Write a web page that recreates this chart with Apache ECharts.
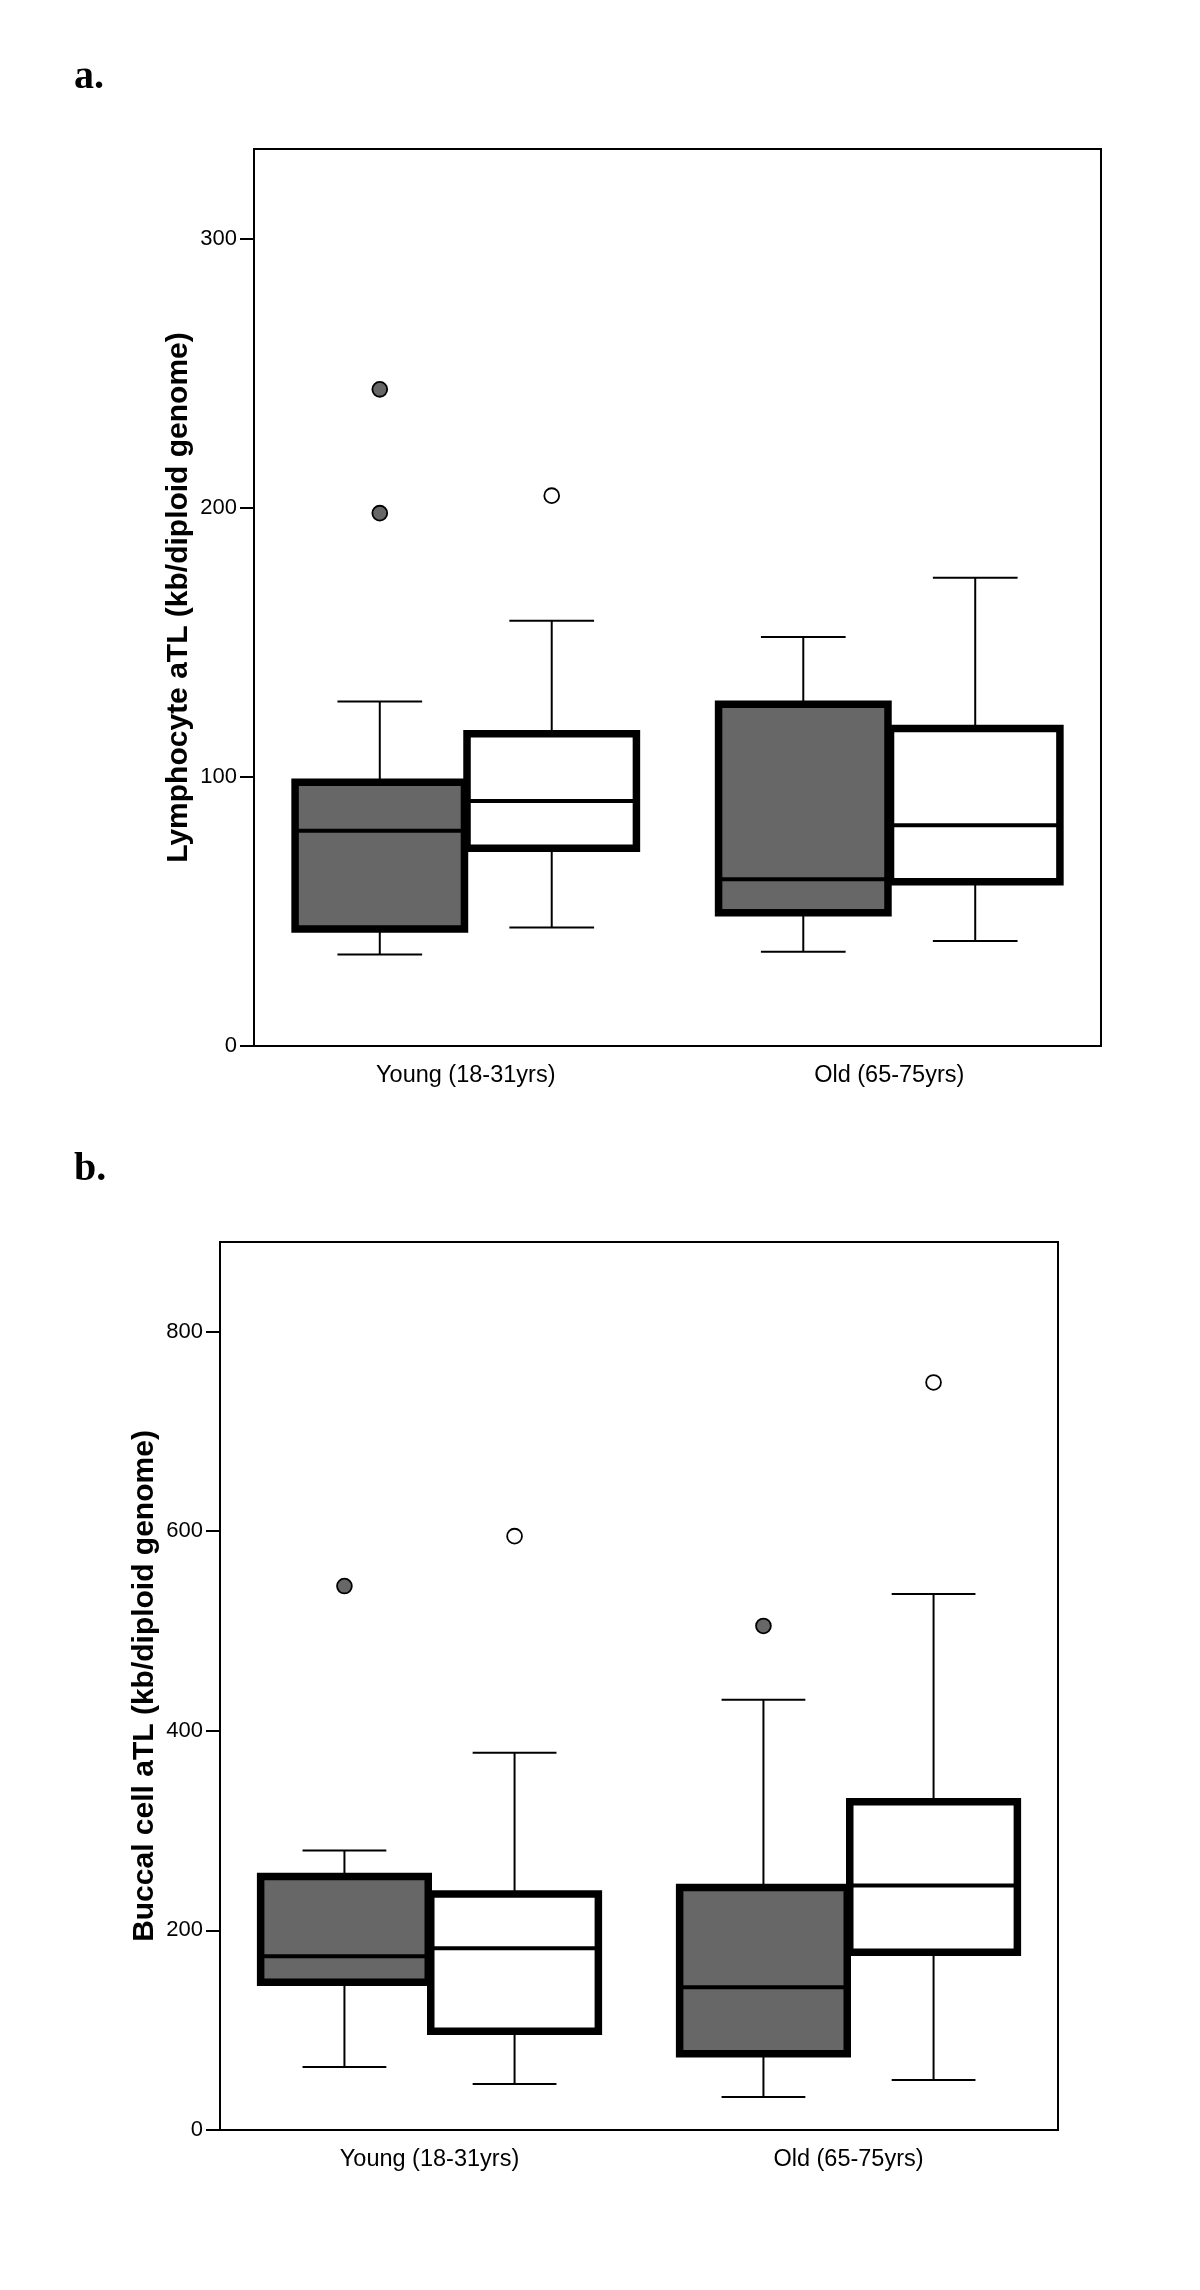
<!DOCTYPE html>
<html>
<head>
<meta charset="utf-8">
<script src="https://cdn.jsdelivr.net/npm/echarts@6/dist/echarts.min.js"></script>
<style>
  html, body { margin: 0; padding: 0; background: #fff; }
  #chart { width: 1200px; height: 2290px; }
</style>
</head>
<body>
<div id="chart"></div>
<script>
// ---------- data ----------
const ageGroups = ['Young (18-31yrs)', 'Old (65-75yrs)'];

// box stats: [min, Q1, median, Q3, max] per age group
const lymphGrey  = [[34, 43.5, 80, 98, 128], [35, 49.5, 62, 127, 152]];
const lymphWhite = [[44, 73.5, 91, 116, 158], [39, 61, 82, 118, 174]];
// outliers: [age group index, value]
const lymphGreyOut  = [[0, 244], [0, 198]];
const lymphWhiteOut = [[0, 204.5]];

const buccalGrey  = [[63, 148, 174, 254, 280], [33, 76.5, 143, 243, 431]];
const buccalWhite = [[46, 99, 182, 236.5, 378], [50, 178, 245, 329, 537]];
const buccalGreyOut  = [[0, 545], [1, 505]];
const buccalWhiteOut = [[0, 595], [1, 749]];

const lymphTicks  = [0, 100, 200, 300];
const buccalTicks = [0, 200, 400, 600, 800];
const lymphRange  = [0, 333.3];
const buccalRange = [0, 889.7];

// ---------- style constants ----------
const OFFSET_FRAC = 0.203;
const BOX_FRAC = 0.40;
const CAP_FRAC = 0.20;
const GREY = '#676767';
const SANS = '"Liberation Sans", Arial, sans-serif';

function withIndex(stats) {
  return stats.map((s, i) => [i].concat(s));
}

function boxRender(sign, fill) {
  return function (params, api) {
    const cat = api.value(0);
    const band = api.size([1, 0])[0];
    const cx = api.coord([cat, 0])[0] + sign * OFFSET_FRAC * band;
    const y = k => api.coord([cat, api.value(k)])[1];
    const yMin = y(1), yQ1 = y(2), yMed = y(3), yQ3 = y(4), yMax = y(5);
    const hw = BOX_FRAC * band / 2, cw = CAP_FRAC * band / 2;
    const thin = { stroke: '#000', lineWidth: 2 };
    return {
      type: 'group',
      children: [
        { type: 'line', shape: { x1: cx, y1: yMax, x2: cx, y2: yQ3 }, style: thin },
        { type: 'line', shape: { x1: cx, y1: yQ1, x2: cx, y2: yMin }, style: thin },
        { type: 'line', shape: { x1: cx - cw, y1: yMax, x2: cx + cw, y2: yMax }, style: thin },
        { type: 'line', shape: { x1: cx - cw, y1: yMin, x2: cx + cw, y2: yMin }, style: thin },
        { type: 'rect', shape: { x: cx - hw, y: yQ3, width: 2 * hw, height: yQ1 - yQ3 },
          style: { fill: fill, stroke: '#000', lineWidth: 7.5 } },
        { type: 'line', shape: { x1: cx - hw, y1: yMed, x2: cx + hw, y2: yMed },
          style: { stroke: '#000', lineWidth: 4 } }
      ]
    };
  };
}

function outRender(sign, fill) {
  return function (params, api) {
    const cat = api.value(0);
    const band = api.size([1, 0])[0];
    const p = api.coord([cat, api.value(1)]);
    return {
      type: 'circle',
      shape: { cx: p[0] + sign * OFFSET_FRAC * band, cy: p[1], r: 7.4 },
      style: { fill: fill, stroke: '#000', lineWidth: 1.8 }
    };
  };
}

function boxSeries(name, stats, gi, sign, fill) {
  return {
    type: 'custom', name: name, xAxisIndex: gi, yAxisIndex: gi,
    renderItem: boxRender(sign, fill),
    encode: { x: 0, y: [1, 2, 3, 4, 5] },
    data: withIndex(stats), silent: true, clip: false
  };
}
function outSeries(name, pts, gi, sign, fill) {
  return {
    type: 'custom', name: name, xAxisIndex: gi, yAxisIndex: gi,
    renderItem: outRender(sign, fill),
    encode: { x: 0, y: 1 },
    data: pts, silent: true, clip: false
  };
}

function xAxis(gi) {
  return {
    type: 'category', gridIndex: gi, data: ageGroups, boundaryGap: true,
    axisLine: { lineStyle: { color: '#000', width: 2 } },
    axisTick: { alignWithLabel: true, length: 14, lineStyle: { color: '#000', width: 2 } },
    axisLabel: { color: '#000', fontFamily: SANS, fontSize: 23.5, margin: 18 },
    splitLine: { show: false }
  };
}
function yAxis(gi, range, ticks, name) {
  return {
    type: 'value', gridIndex: gi, min: range[0], max: range[1],
    name: name, nameLocation: 'middle', nameGap: 60, nameMoveOverlap: false,
    nameTextStyle: { color: '#000', fontFamily: SANS, fontWeight: 'bold', fontSize: 30 },
    axisLine: { show: true, lineStyle: { color: '#000', width: 2 } },
    axisTick: { show: true, length: 14, customValues: ticks, lineStyle: { color: '#000', width: 2 } },
    axisLabel: { color: '#000', fontFamily: SANS, fontSize: 22, margin: 17, customValues: ticks },
    splitLine: { show: false }
  };
}

const option = {
  animation: false,
  backgroundColor: '#fff',
  graphic: [
    { type: 'text', left: 74, top: 58,
      style: { text: 'a.', font: 'bold 40px "Liberation Serif", "Times New Roman", serif', fill: '#000' } },
    { type: 'text', left: 74, top: 1150,
      style: { text: 'b.', font: 'bold 40px "Liberation Serif", "Times New Roman", serif', fill: '#000' } }
  ],
  grid: [
    { left: 254, top: 149, width: 847, height: 897, show: true, borderColor: '#000', borderWidth: 2 },
    { left: 220, top: 1242, width: 838, height: 888, show: true, borderColor: '#000', borderWidth: 2 }
  ],
  xAxis: [xAxis(0), xAxis(1)],
  yAxis: [
    yAxis(0, lymphRange, lymphTicks, 'Lymphocyte aTL (kb/diploid genome)'),
    yAxis(1, buccalRange, buccalTicks, 'Buccal cell aTL (kb/diploid genome)')
  ],
  series: [
    boxSeries('Grey', lymphGrey, 0, -1, GREY),
    boxSeries('White', lymphWhite, 0, 1, '#fff'),
    outSeries('Grey outliers', lymphGreyOut, 0, -1, GREY),
    outSeries('White outliers', lymphWhiteOut, 0, 1, '#fff'),
    boxSeries('Grey', buccalGrey, 1, -1, GREY),
    boxSeries('White', buccalWhite, 1, 1, '#fff'),
    outSeries('Grey outliers', buccalGreyOut, 1, -1, GREY),
    outSeries('White outliers', buccalWhiteOut, 1, 1, '#fff')
  ]
};

const chart = echarts.init(document.getElementById('chart'), null, { renderer: 'canvas' });
chart.setOption(option);
</script>
</body>
</html>
